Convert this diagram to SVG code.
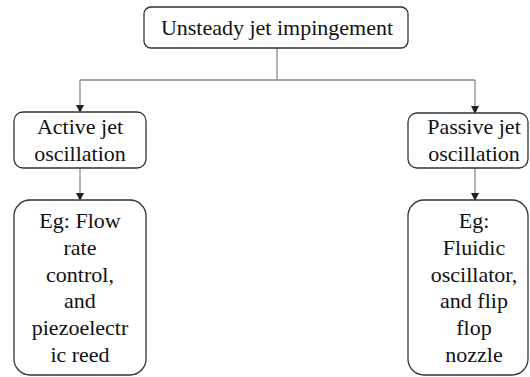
<svg xmlns="http://www.w3.org/2000/svg" width="530" height="377" viewBox="0 0 530 377">
<defs>
<marker id="ah" markerWidth="8" markerHeight="8" refX="7" refY="4" orient="auto" markerUnits="userSpaceOnUse">
<path d="M0,0 L8,4 L0,8 Z" fill="#222"/>
</marker>
<style>
.box{fill:#fff;stroke:#333;stroke-width:1.3}
.t{font-family:'Liberation Serif',serif;font-size:22px;fill:#111;text-anchor:middle}
.c{fill:none;stroke:#8a8a8a;stroke-width:1.3}
</style>
</defs>
<rect width="530" height="377" fill="#fff"/>
<g id="connectors">
<path class="c" d="M277,48 V80 M80,80 H475"/>
<path class="c" d="M80,80 V112" marker-end="url(#ah)"/>
<path class="c" d="M475,80 V113" marker-end="url(#ah)"/>
<path class="c" d="M80,168 V200" marker-end="url(#ah)"/>
<path class="c" d="M475,168 V200" marker-end="url(#ah)"/>
</g>
<g font-family="Liberation Serif, serif">
<g id="root">
<rect class="box" x="144" y="7" width="264" height="41" rx="7"/>
<text class="t" x="277" y="35">Unsteady jet impingement</text>
</g>
<g id="active">
<rect class="box" x="14" y="112" width="132" height="56" rx="9"/>
<text class="t" x="80" y="134">Active jet</text>
<text class="t" x="80" y="161">oscillation</text>
</g>
<g id="passive">
<rect class="box" x="408" y="113" width="120" height="55" rx="9"/>
<text class="t" x="474" y="134">Passive jet</text>
<text class="t" x="474" y="161">oscillation</text>
</g>
<g id="active-eg">
<rect class="box" x="14" y="200" width="132" height="175" rx="16"/>
<text class="t" x="80" y="228">Eg: Flow</text>
<text class="t" x="80" y="255">rate</text>
<text class="t" x="80" y="282">control,</text>
<text class="t" x="80" y="308">and</text>
<text class="t" x="80" y="335">piezoelectr</text>
<text class="t" x="80" y="362">ic reed</text>
</g>
<g id="passive-eg">
<rect class="box" x="408" y="200" width="120" height="175" rx="16"/>
<text class="t" x="474" y="228">Eg:</text>
<text class="t" x="474" y="255">Fluidic</text>
<text class="t" x="474" y="282">oscillator,</text>
<text class="t" x="474" y="308">and flip</text>
<text class="t" x="474" y="335">flop</text>
<text class="t" x="474" y="362">nozzle</text>
</g>
</g>
</svg>
